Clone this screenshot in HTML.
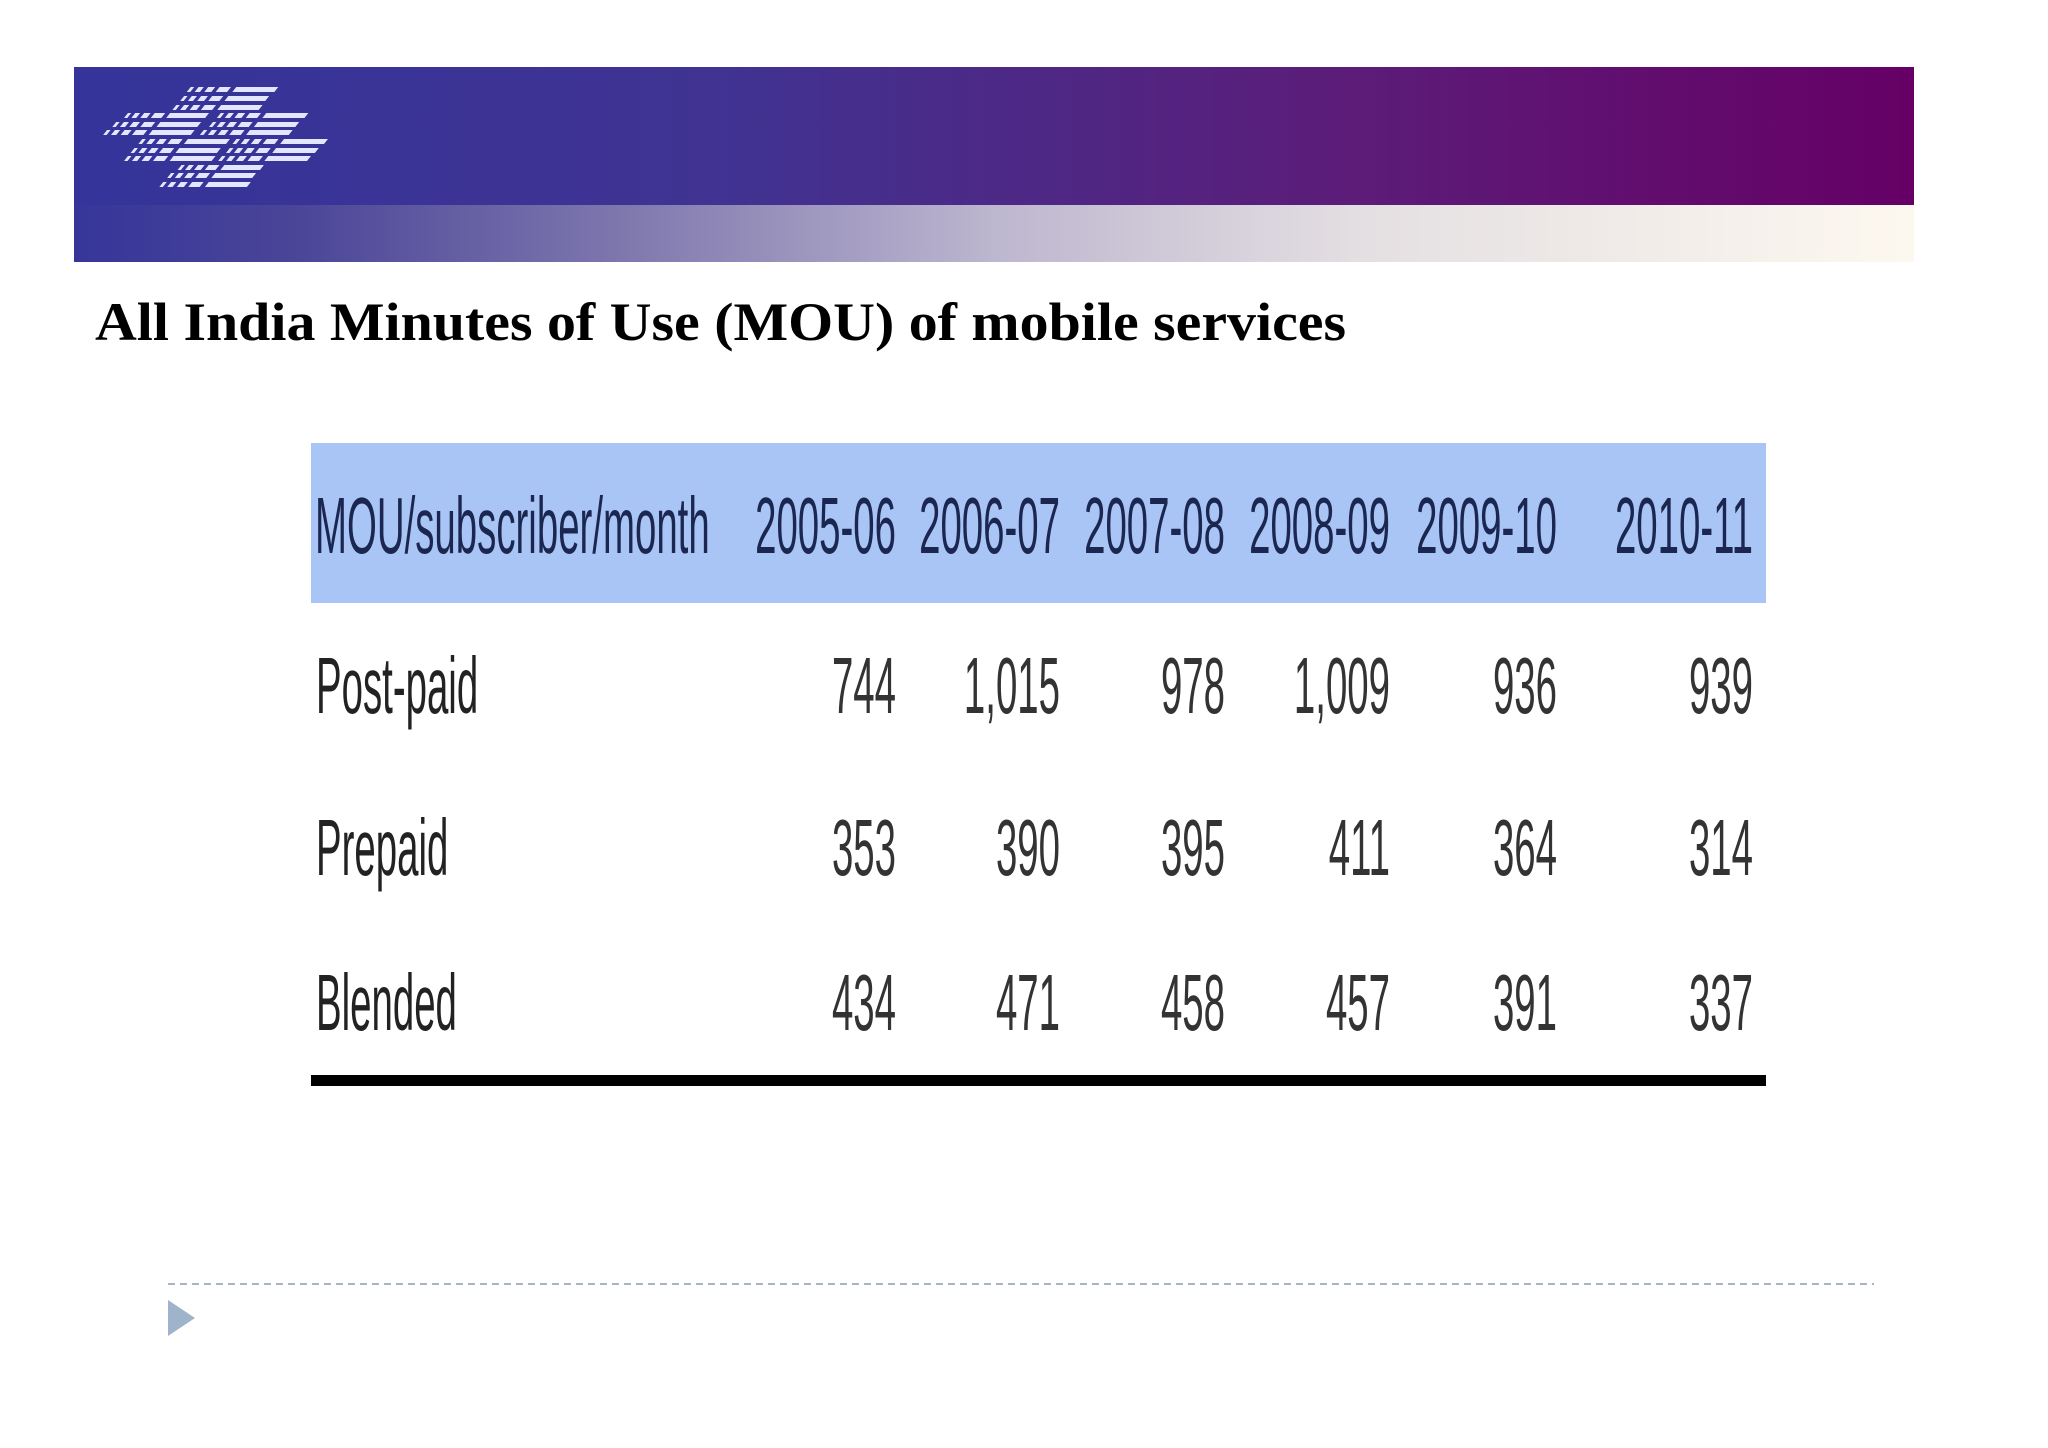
<!DOCTYPE html>
<html><head><meta charset="utf-8"><style>
html,body{margin:0;padding:0;background:#fff;}
body{width:2048px;height:1448px;overflow:hidden;position:relative;}
svg{position:absolute;left:0;top:0;}
</style></head><body>
<svg width="2048" height="1448" viewBox="0 0 2048 1448">
<defs>
<linearGradient id="gTop" x1="0" x2="1" y1="0" y2="0">
<stop offset="0" stop-color="#34349a"/><stop offset="0.35" stop-color="#403392"/><stop offset="0.7" stop-color="#5c1c78"/><stop offset="1" stop-color="#660066"/>
</linearGradient>
<linearGradient id="gBot" x1="0" x2="1" y1="0" y2="0">
<stop offset="0" stop-color="#36369a"/><stop offset="0.12" stop-color="#4a4598"/><stop offset="0.3" stop-color="#7f78ae"/><stop offset="0.5" stop-color="#bdb6cf"/><stop offset="0.7" stop-color="#e4dfe2"/><stop offset="1" stop-color="#fdf8ef"/>
</linearGradient>
</defs>
<g>
<rect x="74" y="67" width="1840" height="139" fill="url(#gTop)"/>
<rect x="74" y="205" width="1840" height="57" fill="url(#gBot)"/>
</g>
<g transform="translate(60,0) scale(1.307,1) translate(-60,0)">
<g id="logo" fill="#e4e6ff"></g>
</g>
<text x="95" y="340" font-family="Liberation Serif, serif" font-weight="bold" font-size="54" fill="#000" textLength="1251" lengthAdjust="spacingAndGlyphs">All India Minutes of Use (MOU) of mobile services</text>
<g id="table">
<rect x="311" y="443" width="1455" height="160" fill="#a9c5f5"/>
<rect x="311" y="1075" width="1455" height="11" fill="#000"/>
</g>
<line x1="168" y1="1284" x2="1874" y2="1284" stroke="#a6b4c4" stroke-width="2" stroke-dasharray="7,5"/>
<polygon points="168,1300 195,1318 168,1336" fill="#9fb4ca"/>
</svg>
<script>
const categories=["2005-06","2006-07","2007-08","2008-09","2009-10","2010-11"];
const rowLabels=["Post-paid","Prepaid","Blended"];
const postpaid=["744","1,015","978","1,009","936","939"];
const prepaid=["353","390","395","411","364","314"];
const blended=["434","471","458","457","391","337"];
const headerLabel="MOU/subscriber/month";

const NS="http://www.w3.org/2000/svg";
const tbl=document.getElementById('table');
const colRight=[896,1060,1225,1390,1557,1753];
const colX=i=>colRight[i];
const rowY=[713,875,1030];
const SX=0.48;
function txt(str,x,y,anchor,color,name){
  const t=document.createElementNS(NS,'text');
  t.setAttribute('transform','translate('+x+','+y+') scale('+SX+',1)');
  t.setAttribute('text-anchor',anchor);
  t.setAttribute('font-family','Liberation Sans, sans-serif');
  t.setAttribute('font-size','80');
  t.setAttribute('fill',color);
  t.textContent=str;
  
  
  tbl.appendChild(t);
}
txt(headerLabel,315,553,'start','#1b2750','header-label');
categories.forEach((c,i)=>txt(c,colX(i),553,'end','#1b2750','header-'+c));
const series=[postpaid,prepaid,blended];
rowLabels.forEach((r,j)=>{
  txt(r,316,rowY[j],'start','#222','row-label-'+r.toLowerCase());
  series[j].forEach((v,i)=>txt(v,colX(i),rowY[j],'end','#333','cell-'+r.toLowerCase()+'-'+categories[i]));
});

// logo
const logo=document.getElementById('logo');
const rows=[[92,[[158,225]]],[101,[[153,218]]],[110,[[147,213]]],
[118,[[110,172],[181,248]]],[127,[[101,166],[175,241]]],[135,[[94,161],[168,236]]],
[144,[[121,188],[193,263]]],[153,[[115,181],[188,256]]],[161,[[110,177],[182,250]]],
[170,[[151,214]]],[178,[[143,208]]],[187,[[137,204]]]];
const parts=[[0,0.04],[0.09,0.15],[0.2,0.28],[0.33,0.46],[0.52,1]];
rows.forEach(([y,segs])=>segs.forEach(([a,b])=>parts.forEach(([p,q])=>{
  const x1=a+(b-a)*p,x2=a+(b-a)*q,h=5;
  const pg=document.createElementNS(NS,'polygon');
  pg.setAttribute('points',(x1+2)+','+(y-h)+' '+(x2+2)+','+(y-h)+' '+(x2-1)+','+y+' '+(x1-1)+','+y);
  
  
  logo.appendChild(pg);
})));
</script>
</body></html>
